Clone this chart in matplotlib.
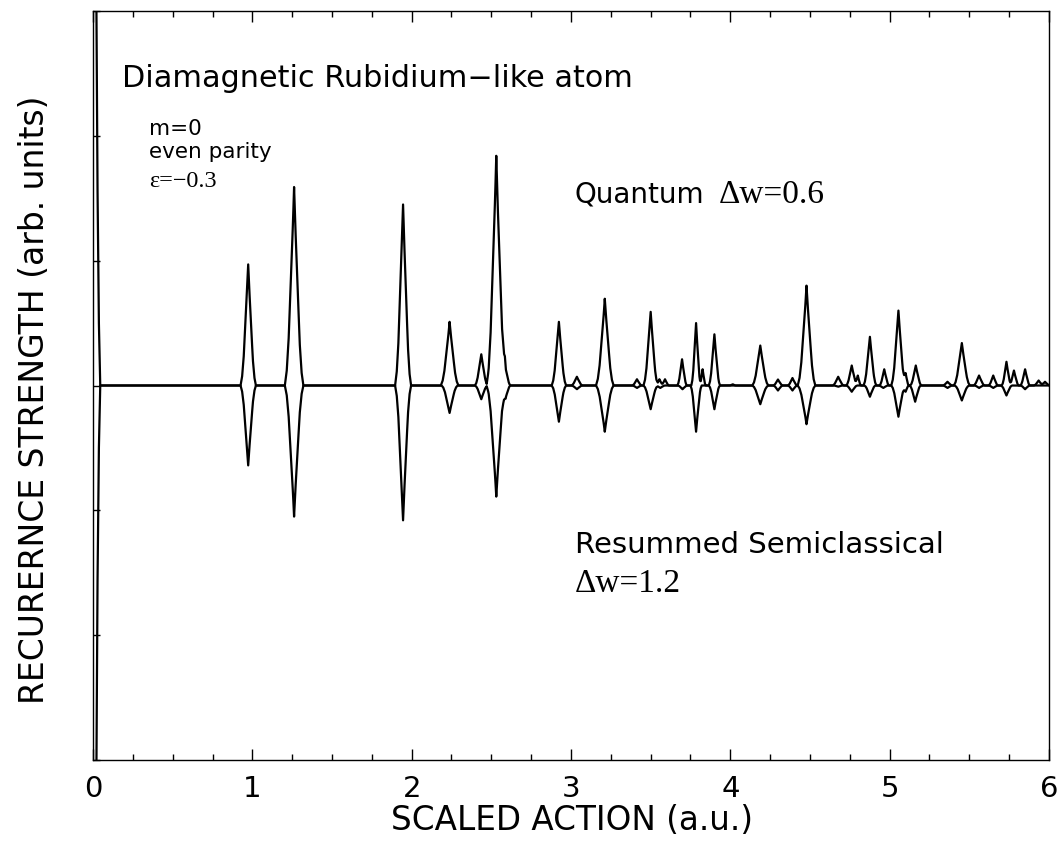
import numpy as np
import matplotlib
matplotlib.use("Agg")
import matplotlib.pyplot as plt
from matplotlib.ticker import MultipleLocator

# ---------------- data ----------------
# Quantum recurrence spectrum (upward): peak position, height, half-base width
q_pos = [0.000, 0.974, 1.262, 1.946, 2.238, 2.437, 2.531, 2.585, 2.924, 3.037,
         3.212, 3.414, 3.500, 3.555, 3.590, 3.697, 3.785, 3.826, 3.900, 4.015,
         4.188, 4.299, 4.390, 4.478, 4.677, 4.762, 4.800, 4.876, 4.966, 5.055,
         5.100, 5.164, 5.363, 5.453, 5.561, 5.650, 5.733, 5.780, 5.850, 5.935,
         5.975]
q_amp = [8.00, 0.97, 1.59, 1.45, 0.51, 0.25, 1.84, 0.17, 0.51, 0.07,
         0.695, 0.05, 0.59, 0.05, 0.05, 0.21, 0.50, 0.13, 0.41, 0.01,
         0.32, 0.048, 0.06, 0.80, 0.07, 0.16, 0.08, 0.39, 0.13, 0.60,
         0.10, 0.16, 0.03, 0.34, 0.08, 0.08, 0.19, 0.12, 0.13, 0.04,
         0.03]
q_wid = [0.045, 0.048, 0.058, 0.050, 0.055, 0.040, 0.060, 0.035, 0.045, 0.035,
         0.055, 0.030, 0.045, 0.025, 0.025, 0.030, 0.030, 0.020, 0.035, 0.020,
         0.050, 0.030, 0.030, 0.055, 0.035, 0.035, 0.020, 0.040, 0.030, 0.045,
         0.020, 0.035, 0.030, 0.050, 0.035, 0.030, 0.030, 0.030, 0.030, 0.030,
         0.030]

# Resummed semiclassical spectrum (drawn downward): position, depth, half-base width
s_pos = [0.000, 0.974, 1.262, 1.946, 2.238, 2.437, 2.531, 2.590, 2.924, 3.037,
         3.212, 3.414, 3.500, 3.560, 3.700, 3.785, 3.900, 4.188, 4.299, 4.390,
         4.478, 4.677, 4.762, 4.876, 4.960, 5.055, 5.100, 5.160, 5.363, 5.453,
         5.561, 5.650, 5.733, 5.850]
s_amp = [8.00, 0.64, 1.05, 1.08, 0.22, 0.11, 0.89, 0.10, 0.29, 0.03,
         0.37, 0.02, 0.19, 0.02, 0.03, 0.37, 0.19, 0.15, 0.04, 0.04,
         0.31, 0.01, 0.05, 0.09, 0.02, 0.25, 0.05, 0.13, 0.02, 0.12,
         0.02, 0.02, 0.08, 0.03]
s_wid = [0.045, 0.048, 0.058, 0.050, 0.050, 0.040, 0.060, 0.030, 0.045, 0.035,
         0.055, 0.030, 0.045, 0.030, 0.030, 0.035, 0.035, 0.050, 0.030, 0.030,
         0.055, 0.030, 0.035, 0.035, 0.030, 0.045, 0.020, 0.035, 0.030, 0.045,
         0.030, 0.030, 0.035, 0.030]

x_ticks = [0, 1, 2, 3, 4, 5, 6]
x_tick_labels = ["0", "1", "2", "3", "4", "5", "6"]
y_ticks = [-3, -2, -1, 0, 1, 2, 3]

# shape of a single recurrence peak (offset / half-width, value / height)
prof_u = [0.0, 0.12, 0.32, 0.60, 0.80, 1.0]
prof_v = [1.0, 0.82, 0.58, 0.22, 0.07, 0.0]

grid = np.linspace(0.0, 6.0, 12001)


def spectrum(pos, amp, wid):
    y = np.zeros_like(grid)
    for c, a, w in zip(pos, amp, wid):
        y += a * np.interp(np.abs(grid - c) / w, prof_u, prof_v, right=0.0)
    return y


quantum = spectrum(q_pos, q_amp, q_wid)
semicl = -spectrum(s_pos, s_amp, s_wid)

# ---------------- figure ----------------
W, H = 1061, 848
fig = plt.figure(figsize=(W / 100, H / 100), dpi=100)
ax = fig.add_axes([93 / W, 1 - 760 / H, (1049 - 93) / W, (760 - 11) / H])

ax.plot(grid, quantum, color="black", lw=1.6)
ax.plot(grid, semicl, color="black", lw=1.6)

ax.set_xlim(0, 6)
ax.set_ylim(-3, 3)

ax.set_xticks(x_ticks)
ax.set_xticklabels(x_tick_labels, family="DejaVu Sans", fontsize=21)
ax.xaxis.set_minor_locator(MultipleLocator(0.25))
ax.set_yticks(y_ticks)
ax.set_yticklabels([])
ax.tick_params(axis="x", which="major", direction="in", length=8, width=1.0,
               top=True, bottom=True, pad=11)
ax.tick_params(axis="x", which="minor", direction="in", length=4, width=1.0,
               top=True, bottom=True)
ax.tick_params(axis="y", which="major", direction="in", length=5, width=1.0,
               left=True, right=False)
for sp in ax.spines.values():
    sp.set_linewidth(1.0)

sans = "DejaVu Sans"
serif = "Liberation Serif"

fig.text(572 / W, 1 - 820 / H, "SCALED ACTION (a.u.)", family=sans,
         fontsize=23.5, ha="center", va="center")
fig.text(35 / W, 1 - 400 / H, "RECURERNCE STRENGTH (arb. units)", family=sans,
         fontsize=23.8, ha="center", va="center", rotation=90)

ax.text(0.0303, 0.8985, "Diamagnetic Rubidium\u2212like atom", family=sans,
        fontsize=21.8, ha="left", va="baseline", transform=ax.transAxes)
ax.text(0.0586, 0.834, "m=0", family=sans, fontsize=15.5,
        ha="left", va="baseline", transform=ax.transAxes)
ax.text(0.0586, 0.804, "even parity", family=sans, fontsize=15.5,
        ha="left", va="baseline", transform=ax.transAxes)
ax.text(0.0586, 0.765, "\u03b5=\u22120.3", family=serif, fontsize=17.5,
        ha="left", va="baseline", transform=ax.transAxes)

tq = ax.text(0.504, 0.7437, "Quantum", family=sans, fontsize=20,
             ha="left", va="baseline", transform=ax.transAxes)
ax.text(0.504, 0.2764, "Resummed Semiclassical", family=sans, fontsize=21,
        ha="left", va="baseline", transform=ax.transAxes)
ax.text(0.504, 0.2243, "\u0394w=1.2", family=serif, fontsize=24,
        ha="left", va="baseline", transform=ax.transAxes)

fig.canvas.draw()
bb = tq.get_window_extent()
x_end = ax.transAxes.inverted().transform((bb.x1 + 14, bb.y0))[0]
ax.text(x_end, 0.7437, "\u0394w=0.6", family=serif, fontsize=24,
        ha="left", va="baseline", transform=ax.transAxes)

fig.savefig("out.png", dpi=100)
